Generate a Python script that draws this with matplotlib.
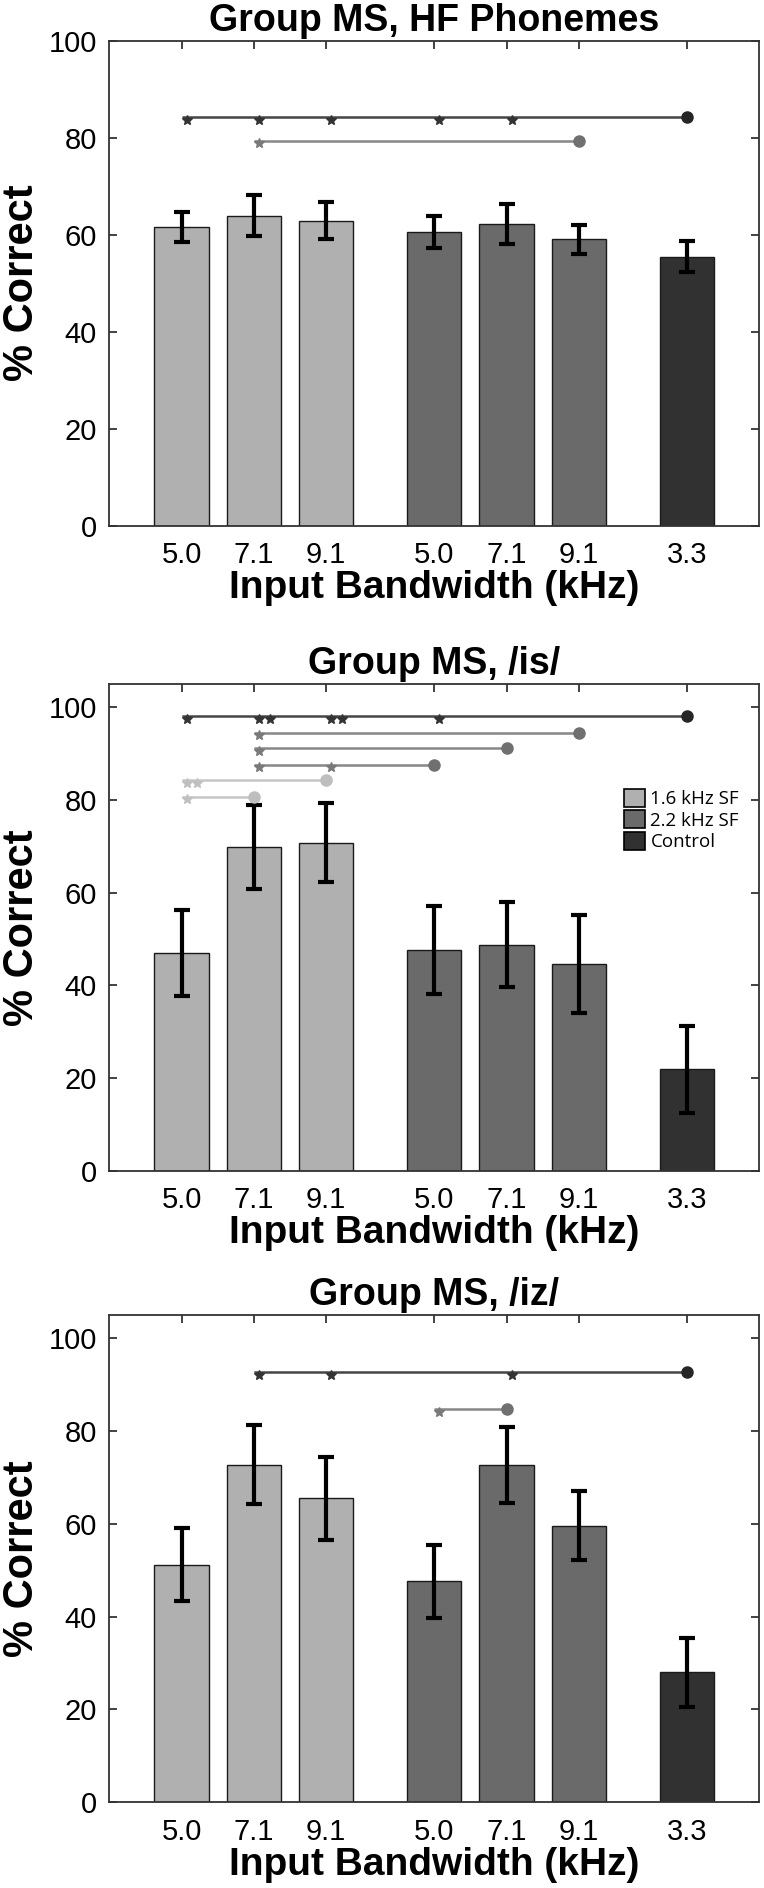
import matplotlib
matplotlib.use('Agg')
import matplotlib.pyplot as plt
from matplotlib.patches import Patch

# ---------------- data ----------------
positions = [1, 2, 3, 4.5, 5.5, 6.5, 8]
tick_labels = ['5.0', '7.1', '9.1', '5.0', '7.1', '9.1', '3.3']
group_names = ['1.6 kHz SF', '2.2 kHz SF', 'Control']
bar_groups = [0, 0, 0, 1, 1, 1, 2]
yticks = [0, 20, 40, 60, 80, 100]

hf_title = 'Group MS, HF Phonemes'
hf_means = [61.5, 63.9, 62.9, 60.5, 62.2, 59.0, 55.4]
hf_errs = [3.1, 4.2, 3.9, 3.3, 4.1, 3.0, 3.2]

is_title = 'Group MS, /is/'
is_means = [47.0, 69.8, 70.8, 47.6, 48.8, 44.6, 21.9]
is_errs = [9.2, 9.1, 8.6, 9.5, 9.1, 10.5, 9.4]

iz_title = 'Group MS, /iz/'
iz_means = [51.2, 72.7, 65.5, 47.6, 72.7, 59.6, 28.0]
iz_errs = [7.8, 8.5, 8.9, 7.8, 8.2, 7.4, 7.5]

# significance lines: (level, start bar, end bar, {bar: number of stars}, tone)
hf_sig = [(84.2, 0, 6, {0: 1, 1: 1, 2: 1, 3: 1, 4: 1}, 'dark'),
          (79.4, 1, 5, {1: 1}, 'mid')]
is_sig = [(98.0, 0, 6, {0: 1, 1: 2, 2: 2, 3: 1}, 'dark'),
          (94.5, 1, 5, {1: 1}, 'mid'),
          (91.2, 1, 4, {1: 1}, 'mid'),
          (87.6, 1, 3, {1: 1, 2: 1}, 'mid'),
          (84.2, 0, 2, {0: 2}, 'light'),
          (80.7, 0, 1, {0: 1}, 'light')]
iz_sig = [(92.7, 1, 6, {1: 1, 2: 1, 4: 1}, 'dark'),
          (84.7, 3, 4, {3: 1}, 'mid')]

# ---------------- style ----------------
bar_colors = ['#b0b0b0', '#6a6a6a', '#313131']
tone_line = {'dark': '#454545', 'mid': '#878787', 'light': '#c6c6c6'}
tone_dot = {'dark': '#262626', 'mid': '#707070', 'light': '#bebebe'}
tone_star = {'dark': '#333333', 'mid': '#7a7a7a', 'light': '#c0c0c0'}

plt.rcParams['font.family'] = ['Liberation Sans', 'DejaVu Sans']

fig = plt.figure(figsize=(7.64, 18.88), dpi=100)
left, width = 0.1431, 0.8508
axes_specs = [
    (0.7216, 0.2569, 100, hf_title, hf_means, hf_errs, hf_sig),
    (0.3799, 0.2578, 105, is_title, is_means, is_errs, is_sig),
    (0.0454, 0.2581, 105, iz_title, iz_means, iz_errs, iz_sig),
]

axes = []
for bottom, height, ytop, title, means, errs, sig in axes_specs:
    ax = fig.add_axes([left, bottom, width, height])
    axes.append(ax)
    colors = [bar_colors[g] for g in bar_groups]
    ax.bar(positions, means, width=0.75, color=colors, edgecolor='#1a1a1a',
           linewidth=1.0, zorder=2)
    ax.errorbar(positions, means, yerr=errs, fmt='none', ecolor='black',
                elinewidth=3, capsize=6, capthick=3, zorder=3)
    for level, i0, i1, stars, tone in sig:
        ax.plot([positions[i0], positions[i1]], [level, level],
                color=tone_line[tone], lw=1.8, zorder=2, solid_capstyle='butt')
        ax.plot([positions[i1]], [level], 'o', ms=8, color=tone_dot[tone],
                zorder=3)
        for idx, n in stars.items():
            for k in range(n):
                ax.plot([positions[idx] + 0.07 + 0.15 * k], [level - 0.6],
                        marker='*', ms=7, color=tone_star[tone], zorder=3,
                        linestyle='none')
    ax.set_xlim(0, 9)
    ax.set_ylim(0, ytop)
    ax.set_xticks(positions)
    ax.set_xticklabels(tick_labels)
    ax.set_yticks(yticks)
    ax.tick_params(direction='in', top=True, right=True, length=6, width=1.2,
                   labelsize=21, colors='#222222', labelcolor='black')
    ax.tick_params(axis='x', pad=11)
    ax.tick_params(axis='y', pad=9)
    for sp in ax.spines.values():
        sp.set_linewidth(1.3)
        sp.set_color('#333333')
    ax.set_title(title, fontsize=27, fontweight='bold', pad=7)
    ax.set_xlabel('Input Bandwidth (kHz)', fontsize=28, fontweight='bold',
                  labelpad=1)
    ax.set_ylabel('% Correct', fontsize=30, fontweight='bold', labelpad=5)

handles = [Patch(facecolor=bar_colors[i], edgecolor='black', linewidth=1.2)
           for i in range(3)]
axes[1].legend(handles, group_names, loc='upper left',
               bbox_to_anchor=(0.792, 0.785), frameon=False, borderpad=0,
               borderaxespad=0, handlelength=1.1, handleheight=1.13,
               handletextpad=0.3, labelspacing=0.1,
               prop={'family': ['Open Sans', 'DejaVu Sans'], 'size': 13.5})

fig.savefig('out.png', dpi=100)
